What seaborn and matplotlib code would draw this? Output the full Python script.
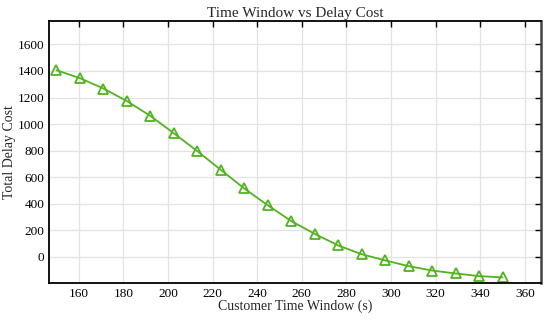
import numpy as np
import pandas as pd
import matplotlib
matplotlib.use("Agg")
import matplotlib.pyplot as plt
import seaborn as sns

# Dane
okno_czasowe = [150.0, 160.5, 171.1, 181.6, 192.1, 202.6, 213.2, 223.7, 234.2, 244.7,
                255.3, 265.8, 276.3, 286.8, 297.4, 307.9, 318.4, 328.9, 339.5, 350.0]
koszt_opoznienia = [1406, 1346, 1268, 1173, 1062, 931, 796, 655, 515, 389,
                    269, 173, 86, 20, -27, -70, -103, -125, -145, -155]

df = pd.DataFrame({"okno": okno_czasowe, "koszt": koszt_opoznienia})

sns.set_style("white")
plt.rcParams["font.family"] = ["Liberation Serif", "DejaVu Serif"]

fig = plt.figure(figsize=(5.5, 3.2), dpi=100)
ax = fig.add_axes([0.0896, 0.116, 0.894, 0.819])

sns.lineplot(data=df, x="okno", y="koszt", ax=ax, color="#52b320", linewidth=1.3,
             marker="^", markersize=6.5, markerfacecolor="none",
             markeredgecolor="#52b320", markeredgewidth=1.3)

ax.set_xlim(146.8, 367.2)
ax.set_ylim(-196, 1778)
ax.set_xticks(np.arange(160, 361, 20))
ax.set_yticks(np.arange(0, 1601, 200))

ax.grid(True, color="#e3e3e3", linewidth=0.9)
ax.tick_params(direction="in", top=True, right=True, length=4, width=1.0,
               labelsize=9.5, colors="black", pad=3.5)
for s in ax.spines.values():
    s.set_color("black")
    s.set_linewidth(1.3)
ax.spines["right"].set_color("#444444")
ax.spines["right"].set_linewidth(1.8)

ax.set_title("Time Window vs Delay Cost", fontsize=11, pad=3)
ax.set_xlabel("Customer Time Window (s)", fontsize=10, labelpad=0)
ax.set_ylabel("Total Delay Cost", fontsize=10, labelpad=1)

fig.savefig("out.png", dpi=100)
